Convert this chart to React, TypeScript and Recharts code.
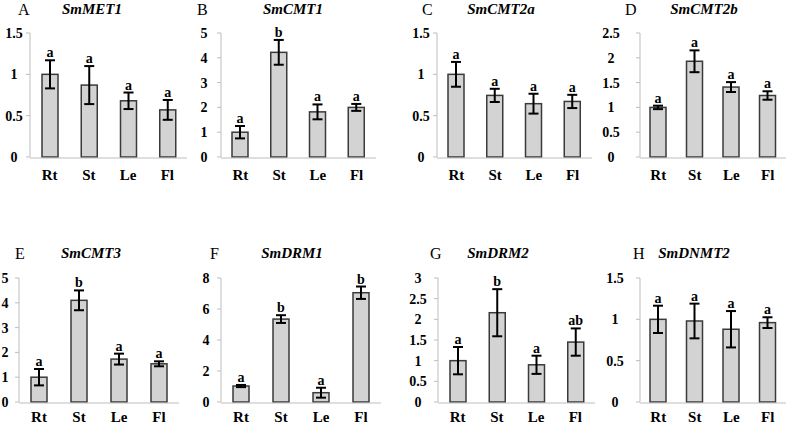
import React from 'react';
import { ComposedChart, Bar, XAxis, YAxis, ErrorBar } from 'recharts';

const tissues = ['Rt', 'St', 'Le', 'Fl'];
const boundaryTicks = [0, 1, 2, 3, 4];

const met1Values = [1.0, 0.87, 0.68, 0.57];
const met1Errors = [0.17, 0.23, 0.1, 0.12];
const met1Groups = ['a', 'a', 'a', 'a'];
const met1Ticks = [0, 0.5, 1, 1.5];

const cmt1Values = [1.0, 4.22, 1.82, 2.0];
const cmt1Errors = [0.25, 0.5, 0.3, 0.14];
const cmt1Groups = ['a', 'b', 'a', 'a'];
const cmt1Ticks = [0, 1, 2, 3, 4, 5];

const cmt2aValues = [1.0, 0.745, 0.645, 0.672];
const cmt2aErrors = [0.15, 0.08, 0.12, 0.08];
const cmt2aGroups = ['a', 'a', 'a', 'a'];
const cmt2aTicks = [0, 0.5, 1, 1.5];

const cmt2bValues = [1.0, 1.93, 1.41, 1.24];
const cmt2bErrors = [0.035, 0.22, 0.1, 0.085];
const cmt2bGroups = ['a', 'a', 'a', 'a'];
const cmt2bTicks = [0, 0.5, 1, 1.5, 2, 2.5];

const cmt3Values = [1.0, 4.1, 1.73, 1.54];
const cmt3Errors = [0.33, 0.4, 0.22, 0.1];
const cmt3Groups = ['a', 'b', 'a', 'a'];
const cmt3Ticks = [0, 1, 2, 3, 4, 5];

const drm1Values = [1.03, 5.35, 0.6, 7.05];
const drm1Errors = [0.07, 0.25, 0.32, 0.4];
const drm1Groups = ['a', 'b', 'a', 'b'];
const drm1Ticks = [0, 2, 4, 6, 8];

const drm2Values = [1.0, 2.16, 0.9, 1.45];
const drm2Errors = [0.33, 0.57, 0.22, 0.33];
const drm2Groups = ['a', 'b', 'a', 'ab'];
const drm2Ticks = [0, 0.5, 1, 1.5, 2, 2.5, 3];

const dnmt2Values = [1.0, 0.98, 0.88, 0.96];
const dnmt2Errors = [0.165, 0.21, 0.22, 0.065];
const dnmt2Groups = ['a', 'a', 'a', 'a'];
const dnmt2Ticks = [0, 0.5, 1, 1.5];

const panelLetters = ['A', 'B', 'C', 'D', 'E', 'F', 'G', 'H'];
const geneNames = ['SmMET1', 'SmCMT1', 'SmCMT2a', 'SmCMT2b', 'SmCMT3', 'SmDRM1', 'SmDRM2', 'SmDNMT2'];
const panelValues = [met1Values, cmt1Values, cmt2aValues, cmt2bValues, cmt3Values, drm1Values, drm2Values, dnmt2Values];
const panelErrors = [met1Errors, cmt1Errors, cmt2aErrors, cmt2bErrors, cmt3Errors, drm1Errors, drm2Errors, dnmt2Errors];
const panelGroups = [met1Groups, cmt1Groups, cmt2aGroups, cmt2bGroups, cmt3Groups, drm1Groups, drm2Groups, dnmt2Groups];
const panelTicks = [met1Ticks, cmt1Ticks, cmt2aTicks, cmt2bTicks, cmt3Ticks, drm1Ticks, drm2Ticks, dnmt2Ticks];

// layout (pixels): plot left / right / top / bottom, y-label centre offset, title positions
const layouts = [
  { left: 30, right: 187, top: 33, bottom: 157, labOff: 16, letterX: 18, titleX: 92, baseY: 14, xMargin: 12 },
  { left: 221, right: 376, top: 33, bottom: 157, labOff: 17, letterX: 197, titleX: 293, baseY: 14, xMargin: 12 },
  { left: 437, right: 592, top: 33, bottom: 157, labOff: 16, letterX: 422, titleX: 501, baseY: 14, xMargin: 12 },
  { left: 640, right: 786, top: 33, bottom: 157, labOff: 29, letterX: 625, titleX: 704, baseY: 14, xMargin: 12 },
  { left: 19, right: 179, top: 278, bottom: 402, labOff: 14, letterX: 15, titleX: 91, baseY: 258, xMargin: 9 },
  { left: 221, right: 381, top: 278, bottom: 402, labOff: 15, letterX: 210, titleX: 292, baseY: 258, xMargin: 9 },
  { left: 438, right: 595, top: 278, bottom: 402, labOff: 20, letterX: 430, titleX: 498, baseY: 258, xMargin: 9 },
  { left: 640, right: 786, top: 278, bottom: 402, labOff: 25, letterX: 633, titleX: 694, baseY: 258, xMargin: 9 },
];

const FONT = "'Liberation Serif', 'Times New Roman', serif";
const AXIS_COLOR = '#bdbdbd';
const YAXIS_W = 50;
const M_TOP = 30;
const M_BOTTOM = 38;
const M_RIGHT = 4;

const makeYTick = (labOff: number) => (props: any) => {
  const { x, y, payload } = props;
  const axisX = x + 4;
  return (
    <text
      x={axisX - labOff}
      y={y}
      dy="0.35em"
      textAnchor="middle"
      fontFamily={FONT}
      fontWeight="bold"
      fontSize={14}
      fill="#000"
    >
      {payload.value}
    </text>
  );
};

const BarWithLetter = (props: any) => {
  const { x, y, width, height } = props;
  const p = props.payload || props;
  const errPx = p.value ? (height * p.err) / p.value : 0;
  return (
    <g>
      <rect x={x} y={y} width={width} height={height} fill="#d3d3d3" stroke="#3a3a3a" strokeWidth={1.5} />
      <text
        x={x + width / 2}
        y={y - errPx - 3}
        textAnchor="middle"
        fontFamily={FONT}
        fontWeight="bold"
        fontSize={14}
        fill="#000"
      >
        {p.sig}
      </text>
    </g>
  );
};

function Panel({ idx }: { idx: number }) {
  const lay = layouts[idx];
  const ticks = panelTicks[idx];
  const data = tissues.map((t, i) => ({
    tissue: t,
    value: panelValues[idx][i],
    err: panelErrors[idx][i],
    sig: panelGroups[idx][i],
  }));
  const plotW = lay.right - lay.left;
  const plotH = lay.bottom - lay.top;
  const w = YAXIS_W + plotW + M_RIGHT;
  const h = M_TOP + plotH + M_BOTTOM + 2;
  return (
    <div style={{ position: 'absolute', left: lay.left - YAXIS_W, top: lay.top - M_TOP }}>
      <ComposedChart
        width={w}
        height={h}
        data={data}
        margin={{ top: M_TOP, right: M_RIGHT, bottom: M_BOTTOM, left: 0 }}
      >
        <XAxis
          xAxisId="num"
          type="number"
          domain={[0, 4]}
          ticks={boundaryTicks}
          allowDataOverflow
          height={1}
          tick={false}
          tickSize={5}
          axisLine={{ stroke: AXIS_COLOR }}
          tickLine={{ stroke: AXIS_COLOR }}
        />
        <XAxis
          xAxisId="cat"
          dataKey="tissue"
          type="category"
          height={1}
          interval={0}
          axisLine={false}
          tickLine={false}
          tickSize={0}
          tickMargin={lay.xMargin}
          tick={{ fontFamily: FONT, fontWeight: 'bold', fontSize: 15, fill: '#000' }}
        />
        <YAxis
          width={YAXIS_W}
          domain={[0, ticks[ticks.length - 1]]}
          ticks={ticks}
          interval={0}
          tickSize={4}
          tickMargin={0}
          axisLine={{ stroke: AXIS_COLOR }}
          tickLine={{ stroke: AXIS_COLOR }}
          tick={makeYTick(lay.labOff)}
        />
        <Bar xAxisId="cat" dataKey="value" barSize={16} isAnimationActive={false} shape={BarWithLetter}>
          <ErrorBar dataKey="err" direction="y" width={5} stroke="#000" strokeWidth={2} isAnimationActive={false} />
        </Bar>
      </ComposedChart>
    </div>
  );
}

export default function App() {
  return (
    <div
      style={{
        position: 'absolute',
        left: 0,
        top: 0,
        width: 790,
        height: 424,
        overflow: 'hidden',
        background: '#fff',
      }}
    >
      {layouts.map((_, i) => (
        <Panel key={i} idx={i} />
      ))}
      <svg width={790} height={424} style={{ position: 'absolute', left: 0, top: 0, pointerEvents: 'none' }}>
        {layouts.map((lay, i) => (
          <g key={i}>
            <text x={lay.letterX} y={lay.baseY + 1} fontFamily={FONT} fontSize={16} fill="#000">
              {panelLetters[i]}
            </text>
            <text
              x={lay.titleX}
              y={lay.baseY}
              textAnchor="middle"
              fontFamily={FONT}
              fontSize={15}
              fontWeight="bold"
              fontStyle="italic"
              fill="#000"
            >
              {geneNames[i]}
            </text>
          </g>
        ))}
      </svg>
    </div>
  );
}
